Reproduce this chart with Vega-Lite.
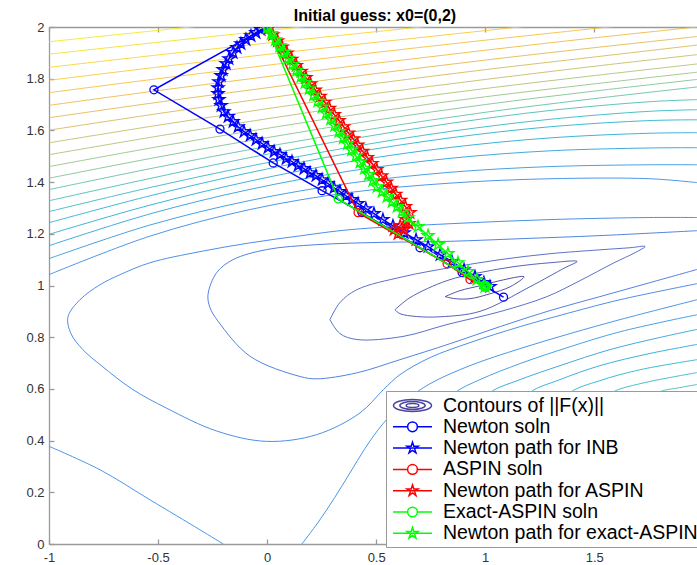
{
"$schema": "https://vega.github.io/schema/vega-lite/v6.json",
"autosize": "none",
"width": 648, "height": 517,
"padding": {"left": 49, "top": 27, "right": 0, "bottom": 21},
"title": {"text": "Initial guess: x0=(0,2)", "fontSize": 16, "fontWeight": "bold", "font": "Liberation Sans", "color": "#000000", "offset": -3, "dx": 2},
"config": {"view": {"stroke": null}, "font": "Liberation Sans"},
"datasets": {
"cont": [
{"c":"L1","lv":25,"i":0,"x":-1,"y":1.943},{"c":"L1","lv":25,"i":1,"x":-0.5,"y":1.987},{"c":"L1","lv":25,"i":2,"x":0,"y":2.03},
{"c":"L2","lv":24,"i":0,"x":-1,"y":1.895},{"c":"L2","lv":24,"i":1,"x":-0.5,"y":1.941},{"c":"L2","lv":24,"i":2,"x":0,"y":1.986},{"c":"L2","lv":24,"i":3,"x":0.5,"y":2.03},
{"c":"L3","lv":23,"i":0,"x":-1,"y":1.844},{"c":"L3","lv":23,"i":1,"x":-0.5,"y":1.892},{"c":"L3","lv":23,"i":2,"x":0,"y":1.938},{"c":"L3","lv":23,"i":3,"x":0.5,"y":1.982},{"c":"L3","lv":23,"i":4,"x":1,"y":2.025},
{"c":"L4","lv":22,"i":0,"x":-1,"y":1.794},{"c":"L4","lv":22,"i":1,"x":-0.5,"y":1.845},{"c":"L4","lv":22,"i":2,"x":0,"y":1.894},{"c":"L4","lv":22,"i":3,"x":0.5,"y":1.941},{"c":"L4","lv":22,"i":4,"x":1,"y":1.986},{"c":"L4","lv":22,"i":5,"x":1.5,"y":2.03},
{"c":"L5","lv":21,"i":0,"x":-1,"y":1.746},{"c":"L5","lv":21,"i":1,"x":-0.5,"y":1.8},{"c":"L5","lv":21,"i":2,"x":0,"y":1.852},{"c":"L5","lv":21,"i":3,"x":0.5,"y":1.902},{"c":"L5","lv":21,"i":4,"x":1,"y":1.949},{"c":"L5","lv":21,"i":5,"x":1.5,"y":1.994},{"c":"L5","lv":21,"i":6,"x":1.971,"y":2.035},
{"c":"L6","lv":20,"i":0,"x":-1,"y":1.697},{"c":"L6","lv":20,"i":1,"x":-0.5,"y":1.754},{"c":"L6","lv":20,"i":2,"x":0,"y":1.808},{"c":"L6","lv":20,"i":3,"x":0.5,"y":1.86},{"c":"L6","lv":20,"i":4,"x":1,"y":1.91},{"c":"L6","lv":20,"i":5,"x":1.5,"y":1.958},{"c":"L6","lv":20,"i":6,"x":1.971,"y":2.0},
{"c":"L7","lv":19,"i":0,"x":-1,"y":1.649},{"c":"L7","lv":19,"i":1,"x":-0.5,"y":1.709},{"c":"L7","lv":19,"i":2,"x":0,"y":1.765},{"c":"L7","lv":19,"i":3,"x":0.5,"y":1.82},{"c":"L7","lv":19,"i":4,"x":1,"y":1.872},{"c":"L7","lv":19,"i":5,"x":1.5,"y":1.92},{"c":"L7","lv":19,"i":6,"x":1.971,"y":1.963},
{"c":"L8","lv":18,"i":0,"x":-1,"y":1.601},{"c":"L8","lv":18,"i":1,"x":-0.5,"y":1.665},{"c":"L8","lv":18,"i":2,"x":0,"y":1.725},{"c":"L8","lv":18,"i":3,"x":0.5,"y":1.782},{"c":"L8","lv":18,"i":4,"x":1,"y":1.835},{"c":"L8","lv":18,"i":5,"x":1.5,"y":1.884},{"c":"L8","lv":18,"i":6,"x":1.971,"y":1.93},
{"c":"L9","lv":17,"i":0,"x":-1,"y":1.552},{"c":"L9","lv":17,"i":1,"x":-0.5,"y":1.62},{"c":"L9","lv":17,"i":2,"x":0,"y":1.684},{"c":"L9","lv":17,"i":3,"x":0.5,"y":1.743},{"c":"L9","lv":17,"i":4,"x":1,"y":1.797},{"c":"L9","lv":17,"i":5,"x":1.5,"y":1.848},{"c":"L9","lv":17,"i":6,"x":1.971,"y":1.893},
{"c":"L10","lv":16,"i":0,"x":-1,"y":1.506},{"c":"L10","lv":16,"i":1,"x":-0.5,"y":1.578},{"c":"L10","lv":16,"i":2,"x":0,"y":1.645},{"c":"L10","lv":16,"i":3,"x":0.5,"y":1.707},{"c":"L10","lv":16,"i":4,"x":1,"y":1.762},{"c":"L10","lv":16,"i":5,"x":1.5,"y":1.812},{"c":"L10","lv":16,"i":6,"x":1.971,"y":1.857},
{"c":"L11","lv":15,"i":0,"x":-1,"y":1.46},{"c":"L11","lv":15,"i":1,"x":-0.5,"y":1.537},{"c":"L11","lv":15,"i":2,"x":0,"y":1.608},{"c":"L11","lv":15,"i":3,"x":0.5,"y":1.673},{"c":"L11","lv":15,"i":4,"x":1,"y":1.73},{"c":"L11","lv":15,"i":5,"x":1.5,"y":1.78},{"c":"L11","lv":15,"i":6,"x":1.971,"y":1.825},
{"c":"L12","lv":14,"i":0,"x":-1,"y":1.415},{"c":"L12","lv":14,"i":1,"x":-0.5,"y":1.497},{"c":"L12","lv":14,"i":2,"x":0,"y":1.572},{"c":"L12","lv":14,"i":3,"x":0.5,"y":1.64},{"c":"L12","lv":14,"i":4,"x":1,"y":1.7},{"c":"L12","lv":14,"i":5,"x":1.5,"y":1.752},{"c":"L12","lv":14,"i":6,"x":1.971,"y":1.797},
{"c":"L13","lv":13,"i":0,"x":-1,"y":1.371},{"c":"L13","lv":13,"i":1,"x":-0.5,"y":1.458},{"c":"L13","lv":13,"i":2,"x":0,"y":1.538},{"c":"L13","lv":13,"i":3,"x":0.5,"y":1.608},{"c":"L13","lv":13,"i":4,"x":1,"y":1.67},{"c":"L13","lv":13,"i":5,"x":1.5,"y":1.723},{"c":"L13","lv":13,"i":6,"x":1.971,"y":1.768},
{"c":"L14","lv":12,"i":0,"x":-1,"y":1.328},{"c":"L14","lv":12,"i":1,"x":-0.537,"y":1.414},{"c":"L14","lv":12,"i":2,"x":-0.078,"y":1.495},{"c":"L14","lv":12,"i":3,"x":0.38,"y":1.566},{"c":"L14","lv":12,"i":4,"x":0.839,"y":1.627},{"c":"L14","lv":12,"i":5,"x":1.297,"y":1.677},{"c":"L14","lv":12,"i":6,"x":1.755,"y":1.711},{"c":"L14","lv":12,"i":7,"x":1.971,"y":1.719},
{"c":"L15","lv":11,"i":0,"x":-1,"y":1.286},{"c":"L15","lv":11,"i":1,"x":-0.537,"y":1.379},{"c":"L15","lv":11,"i":2,"x":-0.078,"y":1.462},{"c":"L15","lv":11,"i":3,"x":0.38,"y":1.535},{"c":"L15","lv":11,"i":4,"x":0.839,"y":1.596},{"c":"L15","lv":11,"i":5,"x":1.297,"y":1.643},{"c":"L15","lv":11,"i":6,"x":1.755,"y":1.674},{"c":"L15","lv":11,"i":7,"x":1.971,"y":1.68},
{"c":"L16","lv":10,"i":0,"x":-1,"y":1.243},{"c":"L16","lv":10,"i":1,"x":-0.537,"y":1.347},{"c":"L16","lv":10,"i":2,"x":-0.078,"y":1.437},{"c":"L16","lv":10,"i":3,"x":0.38,"y":1.512},{"c":"L16","lv":10,"i":4,"x":0.839,"y":1.571},{"c":"L16","lv":10,"i":5,"x":1.297,"y":1.614},{"c":"L16","lv":10,"i":6,"x":1.755,"y":1.638},{"c":"L16","lv":10,"i":7,"x":1.971,"y":1.641},
{"c":"L17","lv":9,"i":0,"x":-1,"y":1.198},{"c":"L17","lv":9,"i":1,"x":-0.537,"y":1.311},{"c":"L17","lv":9,"i":2,"x":-0.078,"y":1.404},{"c":"L17","lv":9,"i":3,"x":0.38,"y":1.479},{"c":"L17","lv":9,"i":4,"x":0.839,"y":1.534},{"c":"L17","lv":9,"i":5,"x":1.297,"y":1.571},{"c":"L17","lv":9,"i":6,"x":1.755,"y":1.589},{"c":"L17","lv":9,"i":7,"x":1.971,"y":1.591},
{"c":"L18","lv":8,"i":0,"x":-1,"y":1.154},{"c":"L18","lv":8,"i":1,"x":-0.537,"y":1.277},{"c":"L18","lv":8,"i":2,"x":-0.078,"y":1.372},{"c":"L18","lv":8,"i":3,"x":0.38,"y":1.443},{"c":"L18","lv":8,"i":4,"x":0.839,"y":1.492},{"c":"L18","lv":8,"i":5,"x":1.297,"y":1.521},{"c":"L18","lv":8,"i":6,"x":1.755,"y":1.532},{"c":"L18","lv":8,"i":7,"x":1.971,"y":1.533},
{"c":"L19","lv":7,"i":0,"x":-1,"y":1.104},{"c":"L19","lv":7,"i":1,"x":-0.537,"y":1.234},{"c":"L19","lv":7,"i":2,"x":-0.078,"y":1.329},{"c":"L19","lv":7,"i":3,"x":0.38,"y":1.396},{"c":"L19","lv":7,"i":4,"x":0.839,"y":1.438},{"c":"L19","lv":7,"i":5,"x":1.297,"y":1.46},{"c":"L19","lv":7,"i":6,"x":1.755,"y":1.467},{"c":"L19","lv":7,"i":7,"x":1.971,"y":1.467},
{"c":"L20","lv":6,"i":0,"x":-1,"y":1.042},{"c":"L20","lv":6,"i":1,"x":-0.537,"y":1.191},{"c":"L20","lv":6,"i":2,"x":-0.078,"y":1.294},{"c":"L20","lv":6,"i":3,"x":0.38,"y":1.36},{"c":"L20","lv":6,"i":4,"x":0.839,"y":1.396},{"c":"L20","lv":6,"i":5,"x":1.297,"y":1.413},{"c":"L20","lv":6,"i":6,"x":1.755,"y":1.413},{"c":"L20","lv":6,"i":7,"x":1.971,"y":1.398},
{"c":"C5","lv":5,"i":0,"x":1.971,"y":1.263},{"c":"C5","lv":5,"i":1,"x":1.755,"y":1.263},{"c":"C5","lv":5,"i":2,"x":1.297,"y":1.255},{"c":"C5","lv":5,"i":3,"x":0.839,"y":1.239},{"c":"C5","lv":5,"i":4,"x":0.38,"y":1.216},{"c":"C5","lv":5,"i":5,"x":0.151,"y":1.192},{"c":"C5","lv":5,"i":6,"x":-0.078,"y":1.165},{"c":"C5","lv":5,"i":7,"x":-0.308,"y":1.131},{"c":"C5","lv":5,"i":8,"x":-0.537,"y":1.088},{"c":"C5","lv":5,"i":9,"x":-0.674,"y":1.042},{"c":"C5","lv":5,"i":10,"x":-0.766,"y":1.003},{"c":"C5","lv":5,"i":11,"x":-0.858,"y":0.945},{"c":"C5","lv":5,"i":12,"x":-0.913,"y":0.879},{"c":"C5","lv":5,"i":13,"x":-0.9,"y":0.815},{"c":"C5","lv":5,"i":14,"x":-0.845,"y":0.752},{"c":"C5","lv":5,"i":15,"x":-0.76,"y":0.69},{"c":"C5","lv":5,"i":16,"x":-0.62,"y":0.6},{"c":"C5","lv":5,"i":17,"x":-0.46,"y":0.525},{"c":"C5","lv":5,"i":18,"x":-0.231,"y":0.437},{"c":"C5","lv":5,"i":19,"x":-0.002,"y":0.397},{"c":"C5","lv":5,"i":20,"x":0.227,"y":0.423},{"c":"C5","lv":5,"i":21,"x":0.426,"y":0.507},{"c":"C5","lv":5,"i":22,"x":0.533,"y":0.597},{"c":"C5","lv":5,"i":23,"x":0.609,"y":0.655},{"c":"C5","lv":5,"i":24,"x":0.747,"y":0.721},{"c":"C5","lv":5,"i":25,"x":0.93,"y":0.779},{"c":"C5","lv":5,"i":26,"x":1.16,"y":0.841},{"c":"C5","lv":5,"i":27,"x":1.389,"y":0.895},{"c":"C5","lv":5,"i":28,"x":1.618,"y":0.945},{"c":"C5","lv":5,"i":29,"x":1.971,"y":1.007},
{"c":"C4","lv":4,"i":0,"x":1.971,"y":1.212},{"c":"C4","lv":4,"i":1,"x":1.526,"y":1.193},{"c":"C4","lv":4,"i":2,"x":1.16,"y":1.181},{"c":"C4","lv":4,"i":3,"x":0.839,"y":1.171},{"c":"C4","lv":4,"i":4,"x":0.531,"y":1.167},{"c":"C4","lv":4,"i":5,"x":0.227,"y":1.158},{"c":"C4","lv":4,"i":6,"x":-0.002,"y":1.139},{"c":"C4","lv":4,"i":7,"x":-0.156,"y":1.1},{"c":"C4","lv":4,"i":8,"x":-0.231,"y":1.05},{"c":"C4","lv":4,"i":9,"x":-0.271,"y":0.965},{"c":"C4","lv":4,"i":10,"x":-0.262,"y":0.915},{"c":"C4","lv":4,"i":11,"x":-0.225,"y":0.862},{"c":"C4","lv":4,"i":12,"x":-0.078,"y":0.726},{"c":"C4","lv":4,"i":13,"x":0.151,"y":0.648},{"c":"C4","lv":4,"i":14,"x":0.227,"y":0.639},{"c":"C4","lv":4,"i":15,"x":0.411,"y":0.662},{"c":"C4","lv":4,"i":16,"x":0.609,"y":0.713},{"c":"C4","lv":4,"i":17,"x":0.839,"y":0.775},{"c":"C4","lv":4,"i":18,"x":1.068,"y":0.841},{"c":"C4","lv":4,"i":19,"x":1.297,"y":0.903},{"c":"C4","lv":4,"i":20,"x":1.526,"y":0.957},{"c":"C4","lv":4,"i":21,"x":1.755,"y":1.011},{"c":"C4","lv":4,"i":22,"x":1.971,"y":1.062},
{"c":"C3","lv":3,"i":0,"x":0.288,"y":0.868},{"c":"C3","lv":3,"i":1,"x":0.334,"y":0.934},{"c":"C3","lv":3,"i":2,"x":0.412,"y":0.984},{"c":"C3","lv":3,"i":3,"x":0.623,"y":1.034},{"c":"C3","lv":3,"i":4,"x":0.839,"y":1.069},{"c":"C3","lv":3,"i":5,"x":1.068,"y":1.1},{"c":"C3","lv":3,"i":6,"x":1.297,"y":1.123},{"c":"C3","lv":3,"i":7,"x":1.526,"y":1.138},{"c":"C3","lv":3,"i":8,"x":1.663,"y":1.146},{"c":"C3","lv":3,"i":9,"x":1.733,"y":1.151},{"c":"C3","lv":3,"i":10,"x":1.687,"y":1.127},{"c":"C3","lv":3,"i":11,"x":1.591,"y":1.088},{"c":"C3","lv":3,"i":12,"x":1.435,"y":1.019},{"c":"C3","lv":3,"i":13,"x":1.283,"y":0.957},{"c":"C3","lv":3,"i":14,"x":1.068,"y":0.899},{"c":"C3","lv":3,"i":15,"x":0.825,"y":0.849},{"c":"C3","lv":3,"i":16,"x":0.623,"y":0.803},{"c":"C3","lv":3,"i":17,"x":0.412,"y":0.791},{"c":"C3","lv":3,"i":18,"x":0.334,"y":0.814},{"c":"C3","lv":3,"i":19,"x":0.288,"y":0.868},
{"c":"C2","lv":2,"i":0,"x":0.586,"y":0.906},{"c":"C2","lv":2,"i":1,"x":0.655,"y":0.953},{"c":"C2","lv":2,"i":2,"x":0.825,"y":1.019},{"c":"C2","lv":2,"i":3,"x":0.976,"y":1.05},{"c":"C2","lv":2,"i":4,"x":1.132,"y":1.073},{"c":"C2","lv":2,"i":5,"x":1.297,"y":1.088},{"c":"C2","lv":2,"i":6,"x":1.421,"y":1.093},{"c":"C2","lv":2,"i":7,"x":1.366,"y":1.069},{"c":"C2","lv":2,"i":8,"x":1.205,"y":0.995},{"c":"C2","lv":2,"i":9,"x":0.976,"y":0.9},{"c":"C2","lv":2,"i":10,"x":0.793,"y":0.879},{"c":"C2","lv":2,"i":11,"x":0.686,"y":0.88},{"c":"C2","lv":2,"i":12,"x":0.609,"y":0.891},{"c":"C2","lv":2,"i":13,"x":0.586,"y":0.906},
{"c":"C1","lv":1,"i":0,"x":0.816,"y":0.957},{"c":"C1","lv":1,"i":1,"x":0.884,"y":0.98},{"c":"C1","lv":1,"i":2,"x":0.976,"y":0.999},{"c":"C1","lv":1,"i":3,"x":1.068,"y":1.019},{"c":"C1","lv":1,"i":4,"x":1.178,"y":1.034},{"c":"C1","lv":1,"i":5,"x":1.114,"y":0.995},{"c":"C1","lv":1,"i":6,"x":1.022,"y":0.968},{"c":"C1","lv":1,"i":7,"x":0.93,"y":0.949},{"c":"C1","lv":1,"i":8,"x":0.862,"y":0.949},{"c":"C1","lv":1,"i":9,"x":0.816,"y":0.957},
{"c":"C6b","lv":6,"i":0,"x":-1,"y":0.378},{"c":"C6b","lv":6,"i":1,"x":-0.766,"y":0.287},{"c":"C6b","lv":6,"i":2,"x":-0.537,"y":0.171},{"c":"C6b","lv":6,"i":3,"x":-0.308,"y":0.055},{"c":"C6b","lv":6,"i":4,"x":-0.201,"y":0.0},
{"c":"C6c","lv":6,"i":0,"x":0.159,"y":0.0},{"c":"C6c","lv":6,"i":1,"x":0.235,"y":0.085},{"c":"C6c","lv":6,"i":2,"x":0.31,"y":0.18},{"c":"C6c","lv":6,"i":3,"x":0.38,"y":0.275},{"c":"C6c","lv":6,"i":4,"x":0.449,"y":0.37},{"c":"C6c","lv":6,"i":5,"x":0.531,"y":0.465},{"c":"C6c","lv":6,"i":6,"x":0.632,"y":0.553},{"c":"C6c","lv":6,"i":7,"x":0.747,"y":0.62},{"c":"C6c","lv":6,"i":8,"x":0.93,"y":0.69},{"c":"C6c","lv":6,"i":9,"x":1.16,"y":0.756},{"c":"C6c","lv":6,"i":10,"x":1.389,"y":0.814},{"c":"C6c","lv":6,"i":11,"x":1.618,"y":0.868},{"c":"C6c","lv":6,"i":12,"x":1.971,"y":0.945},
{"c":"C7","lv":7,"i":0,"x":0.793,"y":0.52},{"c":"C7","lv":7,"i":1,"x":0.862,"y":0.586},{"c":"C7","lv":7,"i":2,"x":0.976,"y":0.636},{"c":"C7","lv":7,"i":3,"x":1.16,"y":0.698},{"c":"C7","lv":7,"i":4,"x":1.389,"y":0.763},{"c":"C7","lv":7,"i":5,"x":1.618,"y":0.821},{"c":"C7","lv":7,"i":6,"x":1.971,"y":0.887},
{"c":"C8","lv":8,"i":0,"x":0.953,"y":0.519},{"c":"C8","lv":8,"i":1,"x":1.022,"y":0.586},{"c":"C8","lv":8,"i":2,"x":1.16,"y":0.636},{"c":"C8","lv":8,"i":3,"x":1.343,"y":0.69},{"c":"C8","lv":8,"i":4,"x":1.572,"y":0.752},{"c":"C8","lv":8,"i":5,"x":1.801,"y":0.799},{"c":"C8","lv":8,"i":6,"x":1.971,"y":0.83},
{"c":"C9","lv":9,"i":0,"x":1.137,"y":0.512},{"c":"C9","lv":9,"i":1,"x":1.205,"y":0.586},{"c":"C9","lv":9,"i":2,"x":1.343,"y":0.636},{"c":"C9","lv":9,"i":3,"x":1.526,"y":0.69},{"c":"C9","lv":9,"i":4,"x":1.755,"y":0.737},{"c":"C9","lv":9,"i":5,"x":1.971,"y":0.772},
{"c":"C10","lv":10,"i":0,"x":1.32,"y":0.512},{"c":"C10","lv":10,"i":1,"x":1.389,"y":0.586},{"c":"C10","lv":10,"i":2,"x":1.526,"y":0.632},{"c":"C10","lv":10,"i":3,"x":1.709,"y":0.674},{"c":"C10","lv":10,"i":4,"x":1.971,"y":0.713},
{"c":"C11","lv":11,"i":0,"x":1.503,"y":0.52},{"c":"C11","lv":11,"i":1,"x":1.581,"y":0.586},{"c":"C11","lv":11,"i":2,"x":1.709,"y":0.62},{"c":"C11","lv":11,"i":3,"x":1.847,"y":0.644},{"c":"C11","lv":11,"i":4,"x":1.971,"y":0.663},
{"c":"C12","lv":12,"i":0,"x":1.709,"y":0.52},{"c":"C12","lv":12,"i":1,"x":1.792,"y":0.586},{"c":"C12","lv":12,"i":2,"x":1.893,"y":0.605},{"c":"C12","lv":12,"i":3,"x":1.971,"y":0.617}
],
"paths": [
{"s":"nb","i":0,"x":0,"y":2},{"s":"nb","i":1,"x":-0.519,"y":1.757},{"s":"nb","i":2,"x":-0.216,"y":1.605},{"s":"nb","i":3,"x":0.028,"y":1.474},{"s":"nb","i":4,"x":0.252,"y":1.367},{"s":"nb","i":5,"x":0.435,"y":1.282},{"s":"nb","i":6,"x":0.701,"y":1.146},{"s":"nb","i":7,"x":0.894,"y":1.05},{"s":"nb","i":8,"x":1.084,"y":0.955},{"s":"nb","i":9,"x":1.0,"y":0.997},
{"s":"nbs","i":0,"x":-0.005,"y":1.997},{"s":"nbs","i":1,"x":-0.028,"y":1.99},{"s":"nbs","i":2,"x":-0.051,"y":1.978},{"s":"nbs","i":3,"x":-0.074,"y":1.966},{"s":"nbs","i":4,"x":-0.097,"y":1.951},{"s":"nbs","i":5,"x":-0.12,"y":1.935},{"s":"nbs","i":6,"x":-0.138,"y":1.92},{"s":"nbs","i":7,"x":-0.156,"y":1.901},{"s":"nbs","i":8,"x":-0.175,"y":1.877},{"s":"nbs","i":9,"x":-0.188,"y":1.858},{"s":"nbs","i":10,"x":-0.202,"y":1.835},{"s":"nbs","i":11,"x":-0.211,"y":1.812},{"s":"nbs","i":12,"x":-0.221,"y":1.788},{"s":"nbs","i":13,"x":-0.225,"y":1.765},{"s":"nbs","i":14,"x":-0.225,"y":1.742},{"s":"nbs","i":15,"x":-0.221,"y":1.719},{"s":"nbs","i":16,"x":-0.211,"y":1.696},{"s":"nbs","i":17,"x":-0.198,"y":1.672},{"s":"nbs","i":18,"x":-0.179,"y":1.653},{"s":"nbs","i":19,"x":-0.156,"y":1.634},{"s":"nbs","i":20,"x":-0.133,"y":1.614},{"s":"nbs","i":21,"x":-0.106,"y":1.595},{"s":"nbs","i":22,"x":-0.078,"y":1.58},{"s":"nbs","i":23,"x":-0.051,"y":1.564},{"s":"nbs","i":24,"x":-0.023,"y":1.549},{"s":"nbs","i":25,"x":0.004,"y":1.533},{"s":"nbs","i":26,"x":0.032,"y":1.518},{"s":"nbs","i":27,"x":0.059,"y":1.506},{"s":"nbs","i":28,"x":0.087,"y":1.491},{"s":"nbs","i":29,"x":0.114,"y":1.479},{"s":"nbs","i":30,"x":0.142,"y":1.464},{"s":"nbs","i":31,"x":0.169,"y":1.452},{"s":"nbs","i":32,"x":0.197,"y":1.436},{"s":"nbs","i":33,"x":0.224,"y":1.425},{"s":"nbs","i":34,"x":0.252,"y":1.409},{"s":"nbs","i":35,"x":0.279,"y":1.394},{"s":"nbs","i":36,"x":0.307,"y":1.378},{"s":"nbs","i":37,"x":0.334,"y":1.363},{"s":"nbs","i":38,"x":0.362,"y":1.347},{"s":"nbs","i":39,"x":0.389,"y":1.332},{"s":"nbs","i":40,"x":0.417,"y":1.317},{"s":"nbs","i":41,"x":0.453,"y":1.297},{"s":"nbs","i":42,"x":0.49,"y":1.278},{"s":"nbs","i":43,"x":0.531,"y":1.255},{"s":"nbs","i":44,"x":0.577,"y":1.231},{"s":"nbs","i":45,"x":0.628,"y":1.204},{"s":"nbs","i":46,"x":0.683,"y":1.177},{"s":"nbs","i":47,"x":0.738,"y":1.15},{"s":"nbs","i":48,"x":0.793,"y":1.119},{"s":"nbs","i":49,"x":0.848,"y":1.092},{"s":"nbs","i":50,"x":0.903,"y":1.061},{"s":"nbs","i":51,"x":0.953,"y":1.034},{"s":"nbs","i":52,"x":0.994,"y":1.011},{"s":"nbs","i":53,"x":1.022,"y":0.996},
{"s":"as","i":0,"x":0,"y":2},{"s":"as","i":1,"x":0.417,"y":1.282},{"s":"as","i":2,"x":0.825,"y":1.084},{"s":"as","i":3,"x":0.93,"y":1.023},{"s":"as","i":4,"x":1.0,"y":0.997},
{"s":"ass","i":0,"x":0.004,"y":1.993},{"s":"ass","i":1,"x":0.026,"y":1.97},{"s":"ass","i":2,"x":0.048,"y":1.946},{"s":"ass","i":3,"x":0.069,"y":1.922},{"s":"ass","i":4,"x":0.091,"y":1.899},{"s":"ass","i":5,"x":0.113,"y":1.875},{"s":"ass","i":6,"x":0.134,"y":1.851},{"s":"ass","i":7,"x":0.156,"y":1.828},{"s":"ass","i":8,"x":0.178,"y":1.804},{"s":"ass","i":9,"x":0.199,"y":1.78},{"s":"ass","i":10,"x":0.221,"y":1.756},{"s":"ass","i":11,"x":0.243,"y":1.732},{"s":"ass","i":12,"x":0.265,"y":1.709},{"s":"ass","i":13,"x":0.286,"y":1.685},{"s":"ass","i":14,"x":0.308,"y":1.661},{"s":"ass","i":15,"x":0.33,"y":1.638},{"s":"ass","i":16,"x":0.351,"y":1.614},{"s":"ass","i":17,"x":0.373,"y":1.59},{"s":"ass","i":18,"x":0.395,"y":1.567},{"s":"ass","i":19,"x":0.416,"y":1.543},{"s":"ass","i":20,"x":0.438,"y":1.519},{"s":"ass","i":21,"x":0.46,"y":1.495},{"s":"ass","i":22,"x":0.481,"y":1.472},{"s":"ass","i":23,"x":0.503,"y":1.448},{"s":"ass","i":24,"x":0.525,"y":1.424},{"s":"ass","i":25,"x":0.547,"y":1.4},{"s":"ass","i":26,"x":0.569,"y":1.376},{"s":"ass","i":27,"x":0.59,"y":1.353},{"s":"ass","i":28,"x":0.612,"y":1.329},{"s":"ass","i":29,"x":0.634,"y":1.305},{"s":"ass","i":30,"x":0.655,"y":1.282},{"s":"ass","i":31,"x":0.637,"y":1.255},{"s":"ass","i":32,"x":0.61,"y":1.231},{"s":"ass","i":33,"x":0.582,"y":1.216},{"s":"ass","i":34,"x":0.6,"y":1.2},{"s":"ass","i":35,"x":0.628,"y":1.216},{"s":"ass","i":36,"x":0.651,"y":1.239},
{"s":"es","i":0,"x":0,"y":2},{"s":"es","i":1,"x":0.326,"y":1.335},{"s":"es","i":2,"x":0.999,"y":0.996},{"s":"es","i":3,"x":1.004,"y":0.999},{"s":"es","i":4,"x":0.996,"y":1.001},{"s":"es","i":5,"x":1.002,"y":0.993},{"s":"es","i":6,"x":0.995,"y":0.995},{"s":"es","i":7,"x":1.005,"y":0.996},
{"s":"ess","i":0,"x":0.0,"y":1.997},{"s":"ess","i":1,"x":0.019,"y":1.974},{"s":"ess","i":2,"x":0.038,"y":1.95},{"s":"ess","i":3,"x":0.058,"y":1.927},{"s":"ess","i":4,"x":0.077,"y":1.903},{"s":"ess","i":5,"x":0.097,"y":1.879},{"s":"ess","i":6,"x":0.116,"y":1.855},{"s":"ess","i":7,"x":0.135,"y":1.832},{"s":"ess","i":8,"x":0.155,"y":1.808},{"s":"ess","i":9,"x":0.174,"y":1.785},{"s":"ess","i":10,"x":0.193,"y":1.761},{"s":"ess","i":11,"x":0.213,"y":1.737},{"s":"ess","i":12,"x":0.232,"y":1.713},{"s":"ess","i":13,"x":0.252,"y":1.69},{"s":"ess","i":14,"x":0.271,"y":1.666},{"s":"ess","i":15,"x":0.291,"y":1.643},{"s":"ess","i":16,"x":0.31,"y":1.619},{"s":"ess","i":17,"x":0.329,"y":1.595},{"s":"ess","i":18,"x":0.349,"y":1.571},{"s":"ess","i":19,"x":0.368,"y":1.548},{"s":"ess","i":20,"x":0.387,"y":1.524},{"s":"ess","i":21,"x":0.407,"y":1.501},{"s":"ess","i":22,"x":0.426,"y":1.477},{"s":"ess","i":23,"x":0.446,"y":1.453},{"s":"ess","i":24,"x":0.465,"y":1.429},{"s":"ess","i":25,"x":0.485,"y":1.406},{"s":"ess","i":26,"x":0.504,"y":1.382},{"s":"ess","i":27,"x":0.527,"y":1.363},{"s":"ess","i":28,"x":0.55,"y":1.344},{"s":"ess","i":29,"x":0.573,"y":1.324},{"s":"ess","i":30,"x":0.596,"y":1.305},{"s":"ess","i":31,"x":0.619,"y":1.286},{"s":"ess","i":32,"x":0.646,"y":1.262},{"s":"ess","i":33,"x":0.692,"y":1.228},{"s":"ess","i":34,"x":0.738,"y":1.193},{"s":"ess","i":35,"x":0.784,"y":1.158},{"s":"ess","i":36,"x":0.829,"y":1.123},{"s":"ess","i":37,"x":0.875,"y":1.088},{"s":"ess","i":38,"x":0.921,"y":1.054},{"s":"ess","i":39,"x":0.962,"y":1.023},{"s":"ess","i":40,"x":0.999,"y":0.996}
]
},
"resolve": {"axis": {"x": "independent", "y": "independent"}},
"layer": [
{
"data": {"name": "cont"},
"mark": {"type": "line", "clip": true, "strokeWidth": 1, "opacity": 0.9, "interpolate": "catmull-rom"},
"encoding": {
"x": {"field": "x", "type": "quantitative", "scale": {"domain": [-1, 1.971], "nice": false, "zero": false},
"axis": {"orient": "bottom", "values": [-1, -0.5, 0, 0.5, 1, 1.5], "format": "~g", "labelExpr": "replace(datum.label, '−', '-')", "title": null, "grid": false, "domainColor": "#9a9a9a", "domainWidth": 1.3, "tickColor": "#9a9a9a", "tickWidth": 1.3, "tickSize": -5, "labelPadding": 12, "labelFontSize": 13, "labelFont": "Liberation Sans", "labelColor": "#333333", "labelFlush": false}},
"y": {"field": "y", "type": "quantitative", "scale": {"domain": [0, 2], "nice": false, "zero": false},
"axis": {"orient": "left", "values": [0, 0.2, 0.4, 0.6, 0.8, 1, 1.2, 1.4, 1.6, 1.8, 2], "format": "~g", "title": null, "grid": false, "domainColor": "#9a9a9a", "domainWidth": 1.3, "tickColor": "#9a9a9a", "tickWidth": 1.3, "tickSize": -5, "labelPadding": 10, "labelFontSize": 13, "labelFont": "Liberation Sans", "labelColor": "#333333", "labelFlush": false}},
"detail": {"field": "c", "type": "nominal"},
"order": {"field": "i", "type": "quantitative"},
"stroke": {"field": "lv", "type": "ordinal", "legend": null,
"scale": {"domain": [1,2,3,4,5,6,7,8,9,10,11,12,13,14,15,16,17,18,19,20,21,22,23,24,25],
"range": ["#3e3f9c","#4451b0","#4a62c4","#3f76dc","#3b82e4","#398de4","#3497e0","#2da1da","#28abd4","#2bb3cc","#38b9c2","#4cbdb4","#64c1a5","#7fc395","#98c486","#afc277","#c3bf69","#d4bb5c","#e3b951","#eeba47","#f6c03f","#f9c93a","#f8d533","#f5e12b","#f1ea24"]}}
}
},
{
"data": {"name": "paths"},
"transform": [{"filter": "datum.s == 'nb'"}],
"mark": {"type": "line", "clip": true, "color": "#0000ff", "strokeWidth": 1.5, "point": {"shape": "circle", "filled": false, "size": 64, "color": "#0000ff", "strokeWidth": 1.3}},
"encoding": {
"x": {"field": "x", "type": "quantitative", "scale": {"domain": [-1, 1.971], "nice": false, "zero": false},
"axis": {"orient": "top", "values": [-1, -0.5, 0, 0.5, 1, 1.5], "labels": false, "title": null, "grid": false, "domainColor": "#9a9a9a", "domainWidth": 1.3, "tickColor": "#9a9a9a", "tickWidth": 1.3, "tickSize": -5}},
"y": {"field": "y", "type": "quantitative", "scale": {"domain": [0, 2], "nice": false, "zero": false}, "axis": null},
"order": {"field": "i", "type": "quantitative"}
}
},
{
"data": {"name": "paths"},
"transform": [{"filter": "datum.s == 'nbs'"}],
"mark": {"type": "line", "clip": true, "color": "#0000ff", "strokeWidth": 1.5, "point": {"shape": "M0,-1L0.223,-0.307L0.951,-0.309L0.361,0.117L0.588,0.809L0,0.38L-0.588,0.809L-0.361,0.117L-0.951,-0.309L-0.223,-0.307Z", "filled": false, "size": 150, "color": "#0000ff", "strokeWidth": 1.4}},
"encoding": {
"x": {"field": "x", "type": "quantitative", "scale": {"domain": [-1, 1.971], "nice": false, "zero": false}, "axis": null},
"y": {"field": "y", "type": "quantitative", "scale": {"domain": [0, 2], "nice": false, "zero": false}, "axis": null},
"order": {"field": "i", "type": "quantitative"}
}
},
{
"data": {"name": "paths"},
"transform": [{"filter": "datum.s == 'as'"}],
"mark": {"type": "line", "clip": true, "color": "#ff0000", "strokeWidth": 1.5, "point": {"shape": "circle", "filled": false, "size": 64, "color": "#ff0000", "strokeWidth": 1.3}},
"encoding": {
"x": {"field": "x", "type": "quantitative", "scale": {"domain": [-1, 1.971], "nice": false, "zero": false}, "axis": null},
"y": {"field": "y", "type": "quantitative", "scale": {"domain": [0, 2], "nice": false, "zero": false}, "axis": null},
"order": {"field": "i", "type": "quantitative"}
}
},
{
"data": {"name": "paths"},
"transform": [{"filter": "datum.s == 'ass'"}],
"mark": {"type": "line", "clip": true, "color": "#ff0000", "strokeWidth": 1.5, "point": {"shape": "M0,-1L0.223,-0.307L0.951,-0.309L0.361,0.117L0.588,0.809L0,0.38L-0.588,0.809L-0.361,0.117L-0.951,-0.309L-0.223,-0.307Z", "filled": false, "size": 150, "color": "#ff0000", "strokeWidth": 1.4}},
"encoding": {
"x": {"field": "x", "type": "quantitative", "scale": {"domain": [-1, 1.971], "nice": false, "zero": false}, "axis": null},
"y": {"field": "y", "type": "quantitative", "scale": {"domain": [0, 2], "nice": false, "zero": false}, "axis": null},
"order": {"field": "i", "type": "quantitative"}
}
},
{
"data": {"name": "paths"},
"transform": [{"filter": "datum.s == 'es'"}],
"mark": {"type": "line", "clip": true, "color": "#00ff00", "strokeWidth": 1.5, "point": {"shape": "circle", "filled": false, "size": 64, "color": "#00ff00", "strokeWidth": 1.5}},
"encoding": {
"x": {"field": "x", "type": "quantitative", "scale": {"domain": [-1, 1.971], "nice": false, "zero": false}, "axis": null},
"y": {"field": "y", "type": "quantitative", "scale": {"domain": [0, 2], "nice": false, "zero": false}, "axis": null},
"order": {"field": "i", "type": "quantitative"}
}
},
{
"data": {"name": "paths"},
"transform": [{"filter": "datum.s == 'ess'"}],
"mark": {"type": "line", "clip": true, "color": "#00ff00", "strokeWidth": 1.5, "point": {"shape": "M0,-1L0.223,-0.307L0.951,-0.309L0.361,0.117L0.588,0.809L0,0.38L-0.588,0.809L-0.361,0.117L-0.951,-0.309L-0.223,-0.307Z", "filled": false, "size": 150, "color": "#00ff00", "strokeWidth": 1.4}},
"encoding": {
"x": {"field": "x", "type": "quantitative", "scale": {"domain": [-1, 1.971], "nice": false, "zero": false}, "axis": null},
"y": {"field": "y", "type": "quantitative", "scale": {"domain": [0, 2], "nice": false, "zero": false}, "axis": null},
"order": {"field": "i", "type": "quantitative"}
}
},
{
"data": {"values": []},
"mark": {"type": "point", "filled": false, "strokeWidth": 1.5},
"encoding": {
"color": {"field": "s", "type": "nominal",
"scale": {"domain": ["Contours of ||F(x)||", "Newton soln", "Newton path for INB", "ASPIN soln", "Newton path for ASPIN", "Exact-ASPIN soln", "Newton path for exact-ASPIN"],
"range": ["#4b45a0", "#0000ff", "#0000ff", "#ff0000", "#ff0000", "#00ff00", "#00ff00"]},
"legend": {"orient": "none", "legendX": 337, "legendY": 364, "title": null, "labelFontSize": 19.5, "labelFont": "Liberation Sans", "labelColor": "#000000", "symbolSize": 380, "symbolStrokeWidth": 1.5, "symbolOffset": 12, "labelOffset": 20, "padding": 4, "rowPadding": 1.3, "strokeColor": "#9a9a9a", "fillColor": "#ffffff", "labelLimit": 500, "symbolOpacity": 1}},
"shape": {"field": "s", "type": "nominal",
"scale": {"domain": ["Contours of ||F(x)||", "Newton soln", "Newton path for INB", "ASPIN soln", "Newton path for ASPIN", "Exact-ASPIN soln", "Newton path for exact-ASPIN"],
"range": [
"M-1.95,0A1.95,0.62 0 1,0 1.95,0A1.95,0.62 0 1,0 -1.95,0M-1.3,0A1.3,0.4 0 1,0 1.3,0A1.3,0.4 0 1,0 -1.3,0M-0.65,0A0.65,0.2 0 1,0 0.65,0A0.65,0.2 0 1,0 -0.65,0",
"M-2,0H-0.5A0.5,0.5 0 1,1 0.5,0A0.5,0.5 0 1,1 -0.5,0M0.5,0H2",
"M-2,0H2M0,-0.6L0.134,-0.184L0.571,-0.185L0.217,0.07L0.353,0.485L0,0.228L-0.353,0.485L-0.217,0.07L-0.571,-0.185L-0.134,-0.184Z",
"M-2,0H-0.5A0.5,0.5 0 1,1 0.5,0A0.5,0.5 0 1,1 -0.5,0M0.5,0H2",
"M-2,0H2M0,-0.6L0.134,-0.184L0.571,-0.185L0.217,0.07L0.353,0.485L0,0.228L-0.353,0.485L-0.217,0.07L-0.571,-0.185L-0.134,-0.184Z",
"M-2,0H-0.5A0.5,0.5 0 1,1 0.5,0A0.5,0.5 0 1,1 -0.5,0M0.5,0H2",
"M-2,0H2M0,-0.6L0.134,-0.184L0.571,-0.185L0.217,0.07L0.353,0.485L0,0.228L-0.353,0.485L-0.217,0.07L-0.571,-0.185L-0.134,-0.184Z"
]}}
}
}
]
}
